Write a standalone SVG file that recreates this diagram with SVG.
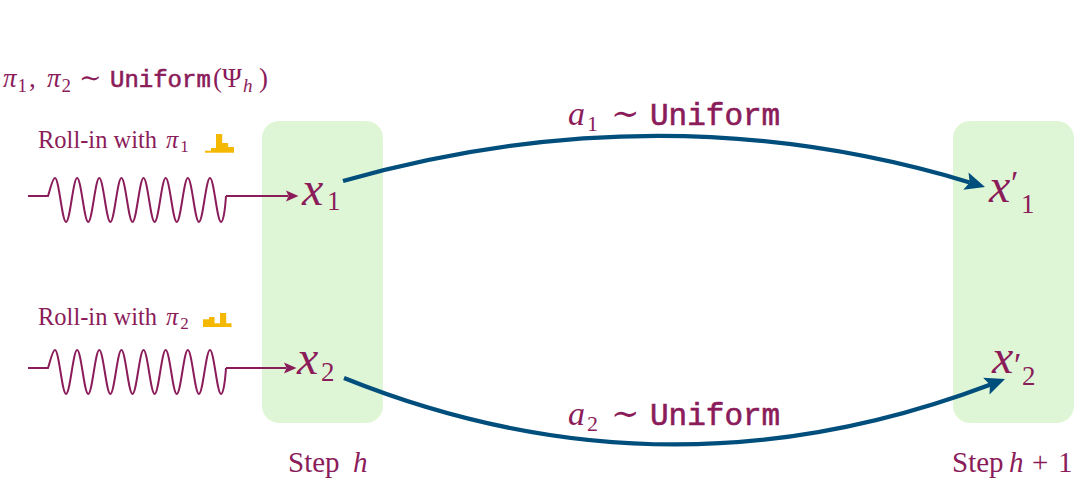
<svg xmlns="http://www.w3.org/2000/svg" xmlns:xlink="http://www.w3.org/1999/xlink" width="1080" height="485" viewBox="0 0 1080 485">
<style>
.box{fill:#dff6d6;}
.t{font-family:"Liberation Serif","DejaVu Serif",serif;fill:#8b1c5a;}
.it{font-style:italic;}
.mono{font-family:"Liberation Mono","DejaVu Sans Mono",monospace;fill:#8b1c5a;stroke:#8b1c5a;stroke-width:0.6;}
.wave{fill:none;stroke:#8b1c5a;stroke-width:2;}
.wavehead{fill:#8b1c5a;}
.edge{fill:none;stroke:#004e7c;stroke-width:4.2;}
.head{fill:#004e7c;}
.bar{fill:#f5b800;}
</style>
<defs>
<path id="wv" d="M28,196 H48 C50,190 52.5,178 55,178 C59,178 62.07,222 66.07,222 C70.07,222 73.14,178 77.14,178 C81.14,178 84.21,222 88.21,222 C92.21,222 95.28,178 99.28,178 C103.28,178 106.35,222 110.35,222 C114.35,222 117.42,178 121.42,178 C125.42,178 128.49,222 132.49,222 C136.49,222 139.56,178 143.56,178 C147.56,178 150.63,222 154.63,222 C158.63,222 161.7,178 165.7,178 C169.7,178 172.77,222 176.77,222 C180.77,222 183.84,178 187.84,178 C191.84,178 194.91,222 198.91,222 C202.91,222 205.98,178 209.98,178 C213.98,178 217.05,222 221.05,222 C223.5,222 225.2,208 226,196"/>
</defs>

<g id="step-h">
<rect class="box" x="262" y="121" width="121" height="302" rx="17"/>
<text class="t" x="288" y="472" font-size="29">Step <tspan class="it" x="353">h</tspan></text>
</g>
<g id="step-h1">
<rect class="box" x="953" y="121" width="121" height="302" rx="17"/>
<text class="t" x="952" y="472" font-size="29">Step <tspan class="it" x="1009">h</tspan><tspan x="1032">+</tspan><tspan x="1058">1</tspan></text>
</g>

<g id="sampling-label">
<text class="t" y="87" font-size="27"><tspan class="it" x="3">π</tspan><tspan dx="1" dy="5" font-size="19">1</tspan><tspan x="29" dy="-5">,</tspan><tspan class="it" x="47">π</tspan><tspan dx="1" dy="5" font-size="19">2</tspan><tspan x="79" dy="-5">∼</tspan></text>
<text class="mono" x="110" y="87" font-size="24">Uniform</text>
<text class="t" y="87" font-size="27"><tspan x="213">(</tspan><tspan x="222">Ψ</tspan><tspan class="it" dx="1" dy="5" font-size="19">h</tspan><tspan x="259" dy="-5">)</tspan></text>
</g>

<g id="rollin-1">
<text class="t" x="38" y="148" font-size="24.5">Roll-in with <tspan class="it" x="166">π</tspan><tspan dx="2" dy="4" font-size="17">1</tspan></text>
<rect class="bar" x="205" y="150.7" width="6.2" height="2"/>
<rect class="bar" x="211" y="148" width="5.5" height="4.7"/>
<rect class="bar" x="216" y="134" width="6.2" height="18.7"/>
<rect class="bar" x="222" y="143" width="6.2" height="9.7"/>
<rect class="bar" x="228" y="147" width="6" height="5.7"/>
</g>
<g id="rollin-2">
<text class="t" x="38" y="325" font-size="24.5">Roll-in with <tspan class="it" x="166">π</tspan><tspan dx="2" dy="4" font-size="17">2</tspan></text>
<rect class="bar" x="203" y="319.3" width="6.2" height="7.7"/>
<rect class="bar" x="209" y="317" width="5.5" height="10"/>
<rect class="bar" x="214" y="323.3" width="6.2" height="3.7"/>
<rect class="bar" x="220" y="313" width="6.2" height="14"/>
<rect class="bar" x="226" y="323.3" width="5.5" height="3.7"/>
</g>

<g id="x1">
<text class="t" font-size="48"><tspan class="it" x="302" y="205">x</tspan><tspan x="327" y="210" font-size="27">1</tspan></text>
</g>
<g id="x2">
<text class="t" font-size="48"><tspan class="it" x="297" y="374">x</tspan><tspan x="321" y="381" font-size="27">2</tspan></text>
</g>
<g id="x1p">
<text class="t" font-size="48"><tspan class="it" x="989" y="202">x</tspan><tspan x="1011" y="194" font-size="34">′</tspan><tspan x="1021" y="213" font-size="27">1</tspan></text>
</g>
<g id="x2p">
<text class="t" font-size="48"><tspan class="it" x="992" y="373">x</tspan><tspan x="1014" y="376" font-size="34">′</tspan><tspan x="1022" y="385" font-size="27">2</tspan></text>
</g>

<g id="connectors">
<use xlink:href="#wv" class="wave"/>
<path class="wave" d="M226,196 H288"/>
<polygon class="wavehead" points="286,190.5 298.5,196 286,201.5 288.5,196"/>
<use xlink:href="#wv" class="wave" transform="translate(0,172)"/>
<path class="wave" d="M226,368 H286"/>
<polygon class="wavehead" points="284,362.5 296.5,368 284,373.5 286.5,368"/>

<path class="edge" d="M343,181 Q664,90 969.7,182.4"/>
<polygon class="head" points="985,187 963.3,189.8 969.7,182.4 968.5,172.6"/>
<path class="edge" d="M344,378 Q665.5,507.5 990,384.7"/>
<polygon class="head" points="1005,379 989.5,394.5 990,384.7 983.1,377.7"/>
</g>

<g id="edge-labels">
<text class="t" y="125" font-size="34"><tspan class="it" x="568">a</tspan><tspan dx="2" y="131" font-size="22">1</tspan><tspan x="611" y="125">∼</tspan></text>
<text class="mono" x="650" y="125" font-size="31">Uniform</text>
<text class="t" y="425" font-size="34"><tspan class="it" x="568">a</tspan><tspan dx="2" y="431" font-size="22">2</tspan><tspan x="611" y="425">∼</tspan></text>
<text class="mono" x="650" y="425" font-size="31">Uniform</text>
</g>
</svg>
